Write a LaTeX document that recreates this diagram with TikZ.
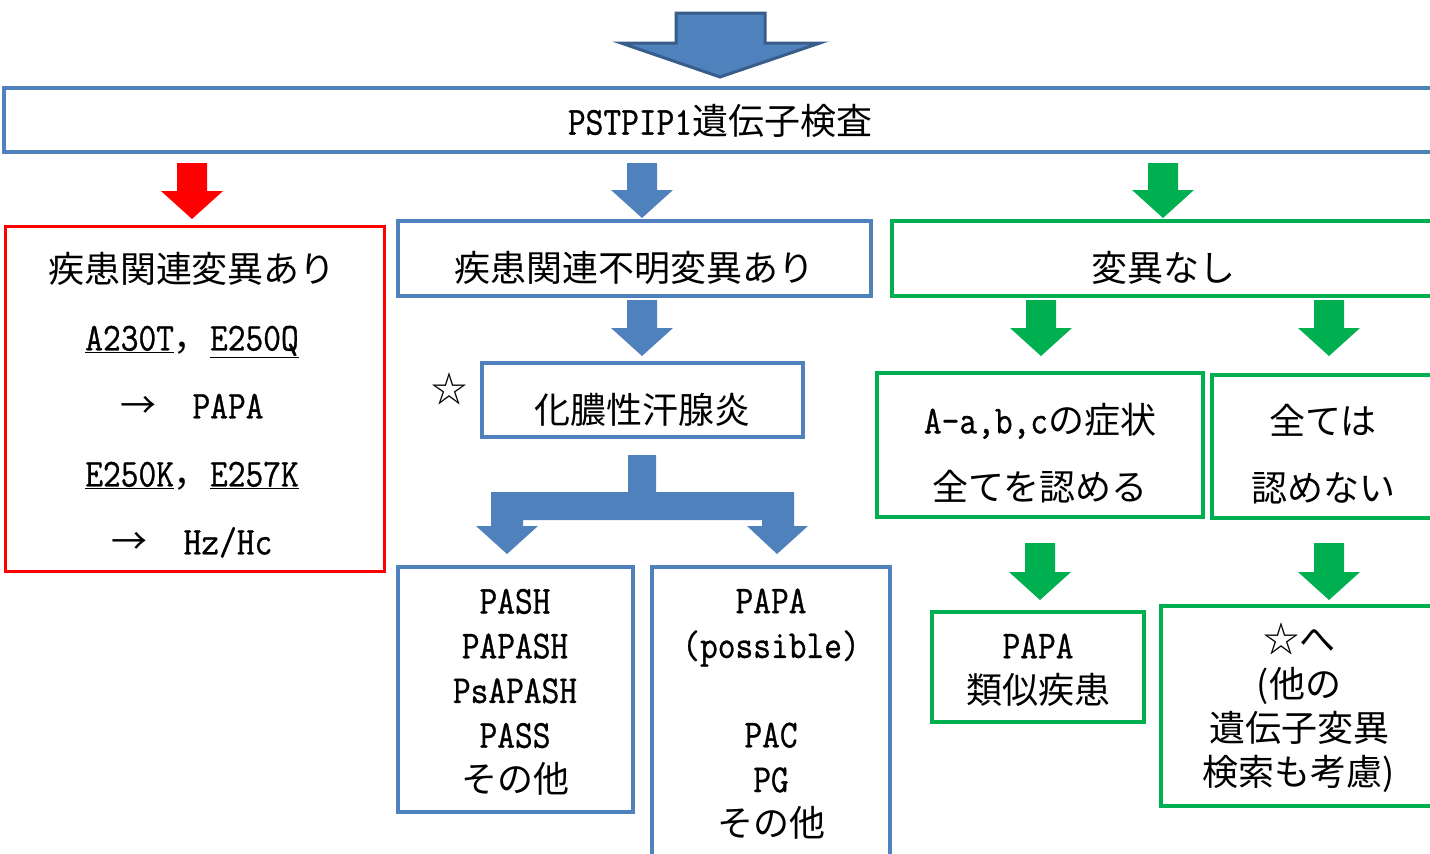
\documentclass[tikz,border=0pt]{standalone}
\usepackage{fontspec}
\setmainfont{Noto Sans CJK JP}
\newfontfamily\latf[Scale=1.1,FakeStretch=0.87,FakeBold=0.8]{Latin Modern Mono}
\newcommand\la[1]{{\latf #1}}
\definecolor{bl}{HTML}{4F81BD}
\definecolor{bldark}{HTML}{385D8A}
\definecolor{gr}{HTML}{00B050}
\definecolor{rd}{HTML}{FF0000}
\newcommand\barrow[4]{%
  \fill[#4] (#1-15,#2) -- (#1+15,#2) -- (#1+15,#3-28) -- (#1+31,#3-28) -- (#1,#3) -- (#1-31,#3-28) -- (#1-15,#3-28) -- cycle;}
\begin{document}
\begin{tikzpicture}[x=1pt,y=-1pt,
  font=\fontsize{36}{44}\selectfont,
  box/.style={rectangle, draw=#1, line width=3.5pt, inner sep=0pt, fill=none},
  txt/.style={inner sep=0pt, align=center, text=black}]
\useasboundingbox (0,0) rectangle (1430,854);
\clip (0,0) rectangle (1430,854);

% top arrow
\filldraw[fill=bl, draw=bldark, line width=3pt, line join=miter]
  (676,13) -- (765,13) -- (765,43) -- (820,43) -- (720,77) -- (621,43) -- (676,43) -- cycle;

% top box
\node[box=bl, minimum width=1433, minimum height=64] (top) at (720.5,120) {};
\node[txt] (toptxt) at (720,121) {\la{PSTPIP1}遺伝子検査};

% row 1 arrows
\barrow{192}{163}{219}{rd}
\barrow{642}{163}{218}{bl}
\barrow{1163}{163}{218}{gr}

% red box
\node[box=rd, line width=3pt, minimum width=379, minimum height=345] (red) at (194.5,398.5) {};
\node[txt, font=\fontsize{36}{68}\selectfont] (redtxt) at (192,405)
 {疾患関連変異あり\\
  \underline{\la{A230T}}，\underline{\la{E250Q}}\\
  →　\la{PAPA}\\
  \underline{\la{E250K}}，\underline{\la{E257K}}\\
  →　\la{Hz/Hc}};

% blue column
\node[box=bl, minimum width=473, minimum height=75] (unk) at (634.5,258.5) {};
\node[txt] (unktxt) at (634,268) {疾患関連不明変異あり};
\barrow{642}{300}{356}{bl}
\node[txt] (star) at (449,389) {☆};
\node[box=bl, minimum width=321, minimum height=74] (hs) at (642.5,400) {};
\node[txt] (hstxt) at (642,410) {化膿性汗腺炎};

% fork arrow
\fill[bl] (628,455) -- (656,455) -- (656,492) -- (794,492) -- (794,526) -- (808,526)
  -- (777,554) -- (747,526) -- (762,526) -- (762,520) -- (523,520) -- (523,526)
  -- (538,526) -- (507,554) -- (476,526) -- (491,526) -- (491,492) -- (628,492) -- cycle;

\node[box=bl, minimum width=235, minimum height=245] (pash) at (515.5,689.5) {};
\node[txt, font=\fontsize{36}{44.7}\selectfont] (pashtxt) at (515,692)
 {\la{PASH}\\\la{PAPASH}\\\la{PsAPASH}\\\la{PASS}\\その他};
\node[box=bl, minimum width=238, minimum height=340] (papa) at (771,737) {};
\node[txt, font=\fontsize{36}{44.7}\selectfont] (papatxt) at (771,714)
 {\la{PAPA}\\\la{(possible)}\\~\\\la{PAC}\\\la{PG}\\その他};

% green column
\node[box=gr, minimum width=543, minimum height=75] (none) at (1163.5,258.5) {};
\node[txt] (nonetxt) at (1163,268) {変異なし};
\barrow{1041}{300}{356}{gr}
\barrow{1329}{300}{356}{gr}
\node[box=gr, minimum width=326, minimum height=144] (all) at (1040,445) {};
\node[txt, font=\fontsize{36}{67}\selectfont] (alltxt) at (1040,453)
 {\la{A-a,b,c}の症状\\全てを認める};
\node[box=gr, minimum width=222, minimum height=143] (notall) at (1323,446.5) {};
\node[txt, font=\fontsize{36}{67}\selectfont] (notalltxt) at (1323,454)
 {全ては\\認めない};
\barrow{1040}{543}{600}{gr}
\barrow{1329}{543}{600}{gr}
\node[box=gr, minimum width=212, minimum height=110] (sim) at (1038,667) {};
\node[txt, font=\fontsize{36}{45}\selectfont] (simtxt) at (1038,670)
 {\la{PAPA}\\類似疾患};
\node[box=gr, minimum width=276, minimum height=200] (other) at (1299,706) {};
\node[txt, font=\fontsize{36}{44.3}\selectfont] (othertxt) at (1299,708)
 {☆へ\\(他の\\遺伝子変異\\検索も考慮)};
\end{tikzpicture}
\end{document}
